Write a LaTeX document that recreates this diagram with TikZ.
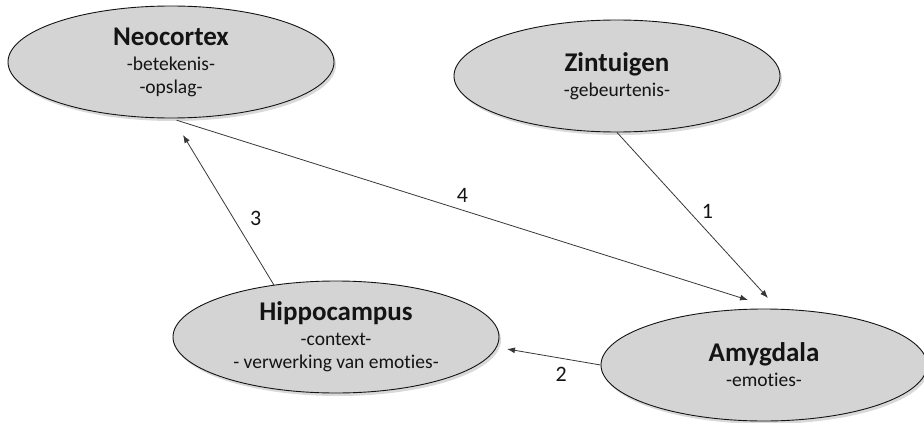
\documentclass[tikz,border=0pt]{standalone}
\usepackage{fontspec}
\setmainfont{Carlito}[Ligatures=NoCommon]
\usetikzlibrary{shapes.geometric,arrows.meta,shadows}
\definecolor{ink}{RGB}{20,20,20}
\definecolor{nodegray}{RGB}{212,212,212}
\definecolor{linegray}{RGB}{55,55,55}
\newcommand{\titlefont}{\fontsize{27}{27}\selectfont\bfseries}
\tikzset{
  region/.style={ellipse, draw=ink, fill=nodegray, line width=0.9pt,
    minimum width=326pt, minimum height=112pt, inner sep=0pt, align=center,
    font=\fontsize{19.5}{23}\selectfont, text=ink,
    drop shadow={shadow xshift=2pt, shadow yshift=-3pt, opacity=0.3}},
  flow/.style={-{Latex[length=8pt,width=6pt]}, line width=0.8pt, draw=linegray},
  num/.style={font=\fontsize{22}{22}\selectfont, text=ink, inner sep=0pt},
}

\begin{document}
\begin{tikzpicture}[x=1pt, y=-1pt]
\useasboundingbox (0,0) rectangle (924,423);
\node[region] (neo) at (171,62) {{\titlefont Neocortex}\\[2pt] -betekenis-\\ -opslag-};
\node[region] (zin) at (617,76) {{\titlefont Zintuigen}\\[2pt] -gebeurtenis-};
\node[region] (hip) at (336,337) {{\titlefont Hippocampus}\\[2pt] -context-\\ - verwerking van emoties-};
\node[region] (amy) at (764,365) {{\titlefont Amygdala}\\[2pt] -emoties-};
% free arrow ends
\coordinate (t1) at (768,298);
\coordinate (t2) at (507,349);
\coordinate (t3) at (183,135);
\coordinate (t4) at (748,300);
\draw[flow] (zin.south) -- (t1) node[num, pos=0.48, right=12pt] {1};
\draw[flow] (amy.west) -- (t2) node[num, pos=0.42, below=9pt] {2};
\draw[flow] (hip.140) -- (t3) node[num, pos=0.44, right=16pt] {3};
\draw[flow, shorten <=6pt] (neo.south) -- (t4) node[num, pos=0.505, above=7pt] {4};
\end{tikzpicture}
\end{document}
